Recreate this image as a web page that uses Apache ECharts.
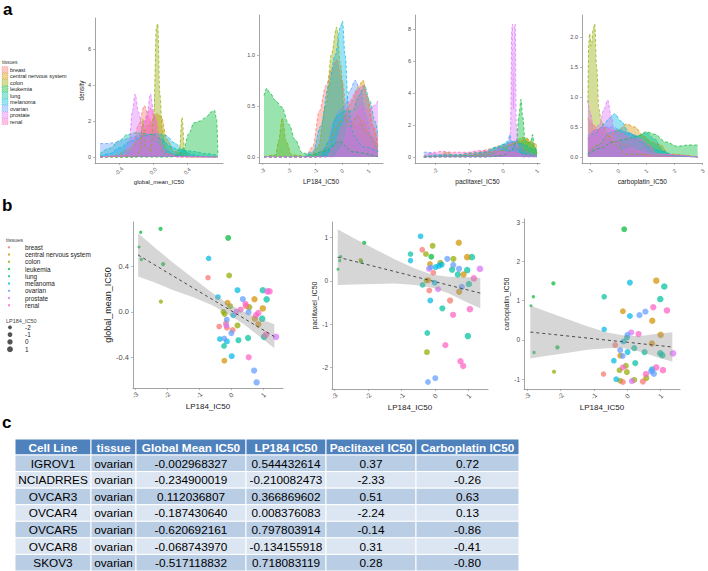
<!DOCTYPE html>
<html>
<head>
<meta charset="utf-8">
<script src="https://cdn.jsdelivr.net/npm/echarts@6/dist/echarts.min.js"></script>
<style>
  html, body { margin: 0; padding: 0; background: #fff; }
  #chart { width: 708px; height: 571px; }
</style>
</head>
<body>
<div id="chart"></div>
<script>
// ---- data ----
var tissues = ['breast', 'central nervous system', 'colon', 'leukemia', 'lung', 'melanoma', 'ovarian', 'prostate', 'renal'];
var tissueColors = ['#F8766D', '#D39200', '#93AA00', '#00BA38', '#00C19F', '#00B9E3', '#619CFF', '#DB72FB', '#FF61C3'];

// density curves (x, density), one list per tissue, in tissue order
var gmDensity = [
  [[-0.62,0],[-0.35,0.05],[-0.24,0.5],[-0.17,1.8],[-0.1,2.85],[-0.05,2.2],[0.0,1.4],[0.06,0.7],[0.15,0.15],[0.3,0],[0.76,0]],
  [[-0.62,0],[-0.45,0.05],[-0.3,0.4],[-0.15,1.0],[-0.05,1.8],[0.05,2.4],[0.1,2.2],[0.16,1.0],[0.25,0.3],[0.4,0.05],[0.76,0]],
  [[-0.62,0],[-0.2,0],[-0.15,0.4],[-0.12,2.1],[-0.09,0.6],[-0.03,0.3],[0.01,2.5],[0.04,7.2],[0.055,7.4],[0.08,3.5],[0.11,1.5],[0.15,0.4],[0.25,0.1],[0.31,0.5],[0.34,2.2],[0.37,0.4],[0.42,0],[0.76,0]],
  [[-0.62,0],[0.2,0],[0.3,0.1],[0.36,0.5],[0.42,1.3],[0.48,1.9],[0.55,2.0],[0.62,2.2],[0.68,2.5],[0.72,2.6],[0.745,2.1],[0.76,0.2]],
  [[-0.62,0.2],[-0.5,0.5],[-0.4,0.9],[-0.3,1.25],[-0.2,1.35],[-0.1,1.3],[0.0,1.25],[0.1,1.0],[0.2,0.6],[0.3,0.4],[0.4,0.35],[0.5,0.3],[0.6,0.2],[0.76,0.1]],
  [[-0.62,0.05],[-0.5,0.2],[-0.4,0.5],[-0.25,0.9],[-0.1,1.2],[0.05,1.3],[0.15,1.2],[0.25,0.8],[0.35,0.4],[0.45,0.15],[0.55,0.05],[0.76,0]],
  [[-0.62,0.75],[-0.55,0.75],[-0.45,0.8],[-0.35,0.95],[-0.25,1.1],[-0.15,1.2],[-0.05,1.1],[0.05,0.8],[0.15,0.4],[0.25,0.15],[0.35,0.03],[0.76,0]],
  [[-0.62,0],[-0.35,0.05],[-0.28,0.8],[-0.24,2.6],[-0.21,3.5],[-0.17,2.5],[-0.12,1.4],[-0.07,2.4],[-0.03,3.5],[0.01,2.4],[0.06,0.6],[0.12,0.05],[0.76,0]],
  [[-0.62,0],[-0.3,0.1],[-0.18,0.8],[-0.1,2.0],[-0.03,2.7],[0.03,2.2],[0.08,1.0],[0.15,0.2],[0.3,0],[0.76,0]]
];
var lpDensity = [
  [[-2.94,0],[-1.4,0],[-1.1,0.1],[-0.85,0.45],[-0.6,0.7],[-0.4,0.85],[-0.2,0.95],[0.0,0.75],[0.2,0.4],[0.5,0.3],[0.8,0.35],[1.1,0.2],[1.36,0.1]],
  [[-2.94,0],[-1.0,0],[-0.5,0.1],[-0.2,0.3],[0.1,0.4],[0.4,0.55],[0.6,0.68],[0.8,0.75],[0.95,0.6],[1.15,0.3],[1.36,0.1]],
  [[-2.94,0],[-2.5,0.02],[-2.4,0.15],[-2.25,0.38],[-2.1,0.15],[-1.9,0.02],[-1.2,0],[-0.9,0.1],[-0.6,0.5],[-0.4,1.0],[-0.2,1.27],[-0.05,0.9],[0.1,0.4],[0.3,0.3],[0.6,0.4],[0.9,0.25],[1.36,0.05]],
  [[-2.94,0.6],[-2.84,0.67],[-2.7,0.62],[-2.5,0.55],[-2.28,0.49],[-2.0,0.32],[-1.77,0.17],[-1.5,0.04],[-1.2,0.02],[-0.6,0.06],[-0.1,0.15],[0.4,0.05],[1.36,0]],
  [[-2.94,0],[-0.8,0],[-0.5,0.15],[-0.2,0.4],[0.1,0.45],[0.4,0.45],[0.65,0.6],[0.85,0.7],[1.05,0.55],[1.25,0.35],[1.36,0.2]],
  [[-2.94,0],[-1.5,0],[-1.1,0.05],[-0.8,0.3],[-0.5,0.7],[-0.25,1.0],[-0.05,1.28],[0.02,1.33],[0.12,1.0],[0.25,0.45],[0.45,0.2],[0.8,0.1],[1.36,0.05]],
  [[-2.94,0],[-1.0,0],[-0.6,0.1],[-0.3,0.35],[-0.1,0.45],[0.1,0.5],[0.3,0.65],[0.5,0.75],[0.7,0.65],[0.9,0.4],[1.1,0.2],[1.36,0.05]],
  [[-2.94,0],[-0.3,0],[0.0,0.1],[0.3,0.35],[0.6,0.45],[0.8,0.5],[1.0,0.45],[1.2,0.5],[1.36,0.55]],
  [[-2.94,0],[-0.6,0],[-0.3,0.1],[0.0,0.3],[0.3,0.55],[0.55,0.65],[0.8,0.7],[1.0,0.55],[1.2,0.3],[1.36,0.15]]
];
var pacDensity = [
  [[-2.33,0],[-1.5,0.05],[-0.8,0.25],[-0.4,0.5],[-0.1,0.7],[0.2,0.8],[0.5,0.6],[0.8,0.25],[1.0,0.1]],
  [[-2.33,0],[-1,0.05],[-0.4,0.3],[0,0.6],[0.4,0.9],[0.7,1.1],[0.9,0.9],[1.0,0.7]],
  [[-2.33,0],[-1.9,0.05],[-1.65,0.3],[-1.4,0.05],[-0.5,0.1],[0,0.4],[0.3,0.8],[0.55,1.2],[0.7,1.2],[0.85,0.8],[1.0,0.3]],
  [[-2.33,0],[-0.5,0],[0,0.1],[0.25,0.4],[0.4,1.0],[0.47,2.6],[0.53,3.6],[0.58,2.5],[0.65,1.1],[0.75,0.9],[0.82,1.0],[0.87,1.4],[0.92,0.7],[1.0,0.2]],
  [[-2.33,0.05],[-1.3,0.15],[-1.0,0.25],[-0.6,0.3],[-0.2,0.6],[0.2,0.9],[0.4,1.0],[0.6,0.8],[0.9,0.5],[1.0,0.4]],
  [[-2.33,0],[-1,0.1],[-0.5,0.3],[-0.2,0.6],[0.0,0.8],[0.15,1.0],[0.2,1.4],[0.25,1.0],[0.4,0.5],[0.6,0.2],[1.0,0]],
  [[-2.33,0.3],[-2.2,0.3],[-1.9,0.15],[-1.2,0.02],[-0.5,0.1],[-0.1,0.5],[0.2,0.9],[0.35,1.0],[0.5,0.8],[0.7,0.3],[1.0,0.05]],
  [[-2.33,0],[-0.5,0],[-0.25,0.1],[-0.15,0.6],[-0.05,0.3],[0.15,0.3],[0.22,1.5],[0.26,8.0],[0.28,8.3],[0.31,3.0],[0.33,8.2],[0.36,8.3],[0.39,2.0],[0.45,0.3],[0.6,0],[1.0,0]],
  [[-2.33,0.05],[-2.0,0.3],[-1.8,0.35],[-1.5,0.3],[-1.0,0.3],[-0.7,0.4],[-0.3,0.35],[0.0,0.35],[0.3,0.3],[0.6,0.15],[1.0,0.05]]
];
var carbDensity = [
  [[-1.07,0.65],[-0.9,0.55],[-0.7,0.45],[-0.4,0.35],[-0.1,0.25],[0.3,0.2],[0.6,0.1],[1.0,0.02],[2.82,0]],
  [[-1.07,0.1],[-0.7,0.2],[-0.3,0.35],[0.0,0.45],[0.3,0.55],[0.6,0.5],[0.9,0.35],[1.2,0.25],[1.5,0.2],[1.8,0.05],[2.82,0]],
  [[-1.07,0.9],[-1.04,1.9],[-1.01,2.06],[-0.95,1.85],[-0.88,2.15],[-0.83,2.22],[-0.76,1.5],[-0.68,0.8],[-0.6,0.6],[-0.4,0.4],[-0.1,0.2],[0.3,0.05],[2.82,0]],
  [[-1.07,0.05],[-0.6,0.15],[-0.2,0.25],[0.3,0.3],[0.7,0.35],[1.0,0.42],[1.3,0.38],[1.7,0.25],[2.1,0.18],[2.5,0.2],[2.82,0.2]],
  [[-1.07,0.05],[-0.7,0.2],[-0.3,0.4],[0.0,0.45],[0.3,0.4],[0.7,0.35],[1.0,0.4],[1.3,0.3],[1.6,0.1],[2.0,0.02],[2.82,0]],
  [[-1.07,0.3],[-0.8,0.4],[-0.5,0.55],[-0.3,0.65],[-0.12,0.72],[0.1,0.6],[0.4,0.4],[0.8,0.25],[1.2,0.15],[1.5,0.1],[2.0,0.02],[2.82,0]],
  [[-1.07,0.35],[-0.8,0.45],[-0.5,0.5],[-0.2,0.5],[0.1,0.45],[0.4,0.4],[0.7,0.35],[1.0,0.15],[1.3,0.03],[2.82,0]],
  [[-1.07,0.95],[-1.0,0.75],[-0.85,0.45],[-0.65,0.55],[-0.5,0.8],[-0.37,0.95],[-0.25,0.7],[-0.1,0.3],[0.1,0.1],[0.4,0.15],[0.8,0.1],[1.2,0.05],[2.82,0]],
  [[-1.07,0.3],[-0.8,0.45],[-0.5,0.5],[-0.2,0.45],[0.1,0.4],[0.5,0.3],[0.8,0.3],[1.1,0.2],[1.4,0.05],[2.82,0]]
];

// table (panel c)
var tableHeader = ['Cell Line', 'tissue', 'Global Mean IC50', 'LP184 IC50', 'Paclitaxel IC50', 'Carboplatin IC50'];
var cellLines = ['IGROV1', 'NCIADRRES', 'OVCAR3', 'OVCAR4', 'OVCAR5', 'OVCAR8', 'SKOV3'];
var tissueCol = ['ovarian', 'ovarian', 'ovarian', 'ovarian', 'ovarian', 'ovarian', 'ovarian'];
var globalMeanCol = ['-0.002968327', '-0.234900019', '0.112036807', '-0.187430640', '-0.620692161', '-0.068743970', '-0.517118832'];
var lp184Col = ['0.544432614', '-0.210082473', '0.366869602', '0.008376083', '0.797803914', '-0.134155918', '0.718083119'];
var paclitaxelCol = ['0.37', '-2.33', '0.51', '-2.24', '-0.14', '0.31', '0.28'];
var carboplatinCol = ['0.72', '-0.26', '0.63', '0.13', '-0.86', '-0.41', '-0.80'];

// scatter points [LP184, value, tissue index]; ovarian ones come from the table
var gmPoints = [
  [-2.82,0.70,3],[-2.87,0.57,3],[-2.8,0.46,3],[-2.2,0.73,3],[-2.12,0.42,3],[-0.09,0.65,3],
  [-2.19,0.09,2],[-0.06,0.32,2],[-0.03,0.05,2],[-0.24,0.0,2],[0.57,0.04,2],[0.2,-0.12,2],[-0.2,-0.02,2],
  [-0.70,0.47,5],[-0.41,0.13,5],[0.2,0.19,5],[0.07,-0.03,5],[-0.35,-0.24,5],[-0.13,-0.26,5],[0.02,-0.39,5],
  [-0.72,0.30,0],[-0.16,-0.10,0],[-0.37,-0.13,0],[-0.13,-0.14,0],[0.47,0.05,0],[0.05,-0.16,0],
  [0.99,0.19,4],[1.11,0.11,4],[0.97,-0.06,4],[-0.22,-0.30,4],[0.23,-0.25,4],[0.53,-0.23,4],[1.03,-0.22,4],
  [-0.11,0.08,1],[0.73,0.11,1],[0.99,0.03,1],[0.74,-0.06,1],[0.85,-0.11,1],[-0.21,-0.43,1],
  [1.13,0.18,7],[0.16,0.0,7],[1.4,-0.22,7],[-0.15,-0.12,7],
  [0.3,0.02,8],[0.78,-0.03,8],[0.85,-0.01,8],[0.55,-0.40,8],[1.2,0.18,8],[1.09,-0.20,8],[0.45,0.07,8]
];
var pacPoints = [
  [-2.89,0.27,3],[-2.84,0.47,3],[-2.81,0.56,3],[-2.11,0.88,3],[-2.2,0.45,3],[-0.11,0.56,3],
  [-2.22,0.48,2],[-0.27,0.62,2],[-0.07,0.81,2],[0.16,0.42,2],[0.55,0.51,2],[-0.25,0.01,2],[-0.24,-1.64,2],
  [-0.43,1.03,5],[-0.73,0.47,5],[0.02,0.32,5],[0.2,0.38,5],[-0.01,-0.04,5],[-0.14,-0.45,5],[0.12,0.35,5],
  [-0.73,0.62,4],[0.51,0.26,4],[0.68,0.15,4],[1.1,0.55,4],[0.96,0.25,4],[1.01,-0.07,4],[-0.37,-0.09,4],[0.22,-0.63,4],[-0.23,-1.2,4],[0.98,-1.27,4],
  [-0.38,0.72,0],[-0.17,-0.22,0],[-0.05,0.19,0],[0.45,-0.45,0],
  [-0.15,0.39,1],[0.71,0.88,1],[0.85,0.15,1],[0.96,0.55,1],[0.72,-0.25,1],[-0.2,0.02,1],
  [-0.18,0.28,7],[0.09,-0.19,7],[1.34,0.28,7],
  [1.16,0.06,8],[1.04,-0.65,8],[0.54,-0.78,8],[0.31,-1.48,8],[0.76,-1.85,8],[0.84,-1.96,8]
];
var carbPoints = [
  [-2.81,1.1,3],[-2.88,0.87,3],[-2.79,-0.32,3],[-2.21,1.44,3],[-2.09,-0.19,3],[-0.09,2.82,3],
  [-2.19,-0.81,2],[-0.04,-0.66,2],[-0.23,-0.77,2],[-0.01,-0.82,2],[-0.21,-1.04,2],[0.21,-1.02,2],[0.57,-0.97,2],
  [0.08,1.46,5],[-0.69,0.27,5],[0.08,0.61,5],[-0.11,-0.04,5],[0.01,-0.31,5],[-0.4,-0.53,5],[0.75,-0.75,5],[-0.33,-1.0,5],
  [-0.69,1.10,4],[0.99,1.04,4],[1.11,1.36,4],[-0.01,0.06,4],[0.21,-0.21,4],[0.52,-0.31,4],[0.99,-0.34,4],[1.05,-0.39,4],[0.24,-0.59,4],
  [-0.13,0.73,1],[0.87,1.51,1],[0.75,0.49,1],[1.0,0.13,1],[0.74,-0.09,1],[-0.21,-0.4,1],
  [-0.36,-0.13,0],[-0.71,-0.87,0],[-0.13,-1.07,0],[0.47,-1.06,0],
  [0.12,0.19,7],[1.37,-0.34,7],[0.14,-1.05,7],
  [0.78,0.83,8],[1.19,0.75,8],[0.34,0.15,8],[-0.13,-0.70,8],[0.56,-0.87,8],[0.87,-0.70,8],[1.07,-0.77,8]
];
for (var k = 0; k < cellLines.length; k++) {
  var lpv = parseFloat(lp184Col[k]);
  gmPoints.push([lpv, parseFloat(globalMeanCol[k]), 6]);
  pacPoints.push([lpv, parseFloat(paclitaxelCol[k]), 6]);
  carbPoints.push([lpv, parseFloat(carboplatinCol[k]), 6]);
}

// linear fit and its confidence band
var bandX = [-2.9, -2.4, -1.8, -1.2, -0.6, -0.1, 0.4, 0.9, 1.35];
var gmUpper = [0.69, 0.57, 0.43, 0.30, 0.17, 0.07, 0.00, -0.06, -0.11];
var gmLower = [0.31, 0.26, 0.19, 0.13, 0.06, -0.02, -0.11, -0.22, -0.32];
var gmFit = [[-2.9, 0.50], [1.35, -0.218]];
var pacUpper = [1.19, 0.98, 0.74, 0.50, 0.29, 0.15, 0.10, 0.09, 0.07];
var pacLower = [-0.09, -0.08, -0.07, -0.06, -0.09, -0.15, -0.28, -0.47, -0.63];
var pacFit = [[-2.9, 0.55], [1.35, -0.28]];
var carbUpper = [0.875, 0.715, 0.53, 0.35, 0.19, 0.11, 0.10, 0.16, 0.195];
var carbLower = [-0.475, -0.405, -0.33, -0.25, -0.21, -0.21, -0.30, -0.44, -0.555];
var carbFit = [[-2.9, 0.2], [1.35, -0.18]];

// tick labels
var gmTicks = [-0.4, 0, 0.4];
var lpTicks = [-3, -2, -1, 0, 1];
var pacTicksA = [-2, -1, 0, 1];
var carbTicksA = [-1, 0, 1, 2, 3];
var gmDensTicks = [0, 2, 4, 6];
var lpDensTicks = [0, 0.5, 1.0];
var pacDensTicks = [0, 2, 4, 6, 8];
var carbDensTicks = [0, 0.5, 1.0, 1.5, 2.0];
var gmScatTicks = [-0.4, 0, 0.4];
var pacScatTicks = [-2, -1, 0, 1];
var carbScatTicks = [-1, 0, 1, 2, 3];
var sizeLegend = [-2, -1, 0, 1];

// ---- chart ----
var FONT = '"Liberation Sans", Arial, sans-serif';
var AXIS = '#8c8c8c';

function rgba(hex, a) {
  var n = parseInt(hex.slice(1), 16);
  return 'rgba(' + (n >> 16) + ',' + ((n >> 8) & 255) + ',' + (n & 255) + ',' + a + ')';
}
function pointSize(lp) {
  return 2.4 + 4.3 * Math.sqrt(Math.max(lp + 3, 0) / 4.4);
}

function makeX(i, min, max, ticks, digits, name, labelSize, nameSize, nameGap, margin) {
  return {
    type: 'value', gridIndex: i, min: min, max: max,
    splitLine: { show: false },
    axisLine: { show: true, onZero: false, lineStyle: { color: AXIS, width: 0.8 } },
    axisTick: { show: true, length: 2, customValues: ticks, lineStyle: { color: AXIS, width: 0.6 } },
    axisLabel: {
      customValues: ticks, rotate: 45, align: 'center', verticalAlign: 'middle', margin: margin,
      fontSize: labelSize, color: '#4d4d4d', fontFamily: FONT,
      formatter: function (v) { return Number(v).toFixed(digits); }
    },
    name: name, nameLocation: 'middle', nameGap: nameGap,
    nameTextStyle: { fontSize: nameSize, color: '#1a1a1a', fontFamily: FONT }
  };
}
function makeY(i, min, max, ticks, digits, name, labelSize, nameSize, nameGap, margin) {
  return {
    type: 'value', gridIndex: i, min: min, max: max,
    splitLine: { show: false },
    axisLine: { show: true, onZero: false, lineStyle: { color: AXIS, width: 0.8 } },
    axisTick: { show: true, length: 2, customValues: ticks, lineStyle: { color: AXIS, width: 0.6 } },
    axisLabel: {
      customValues: ticks, margin: margin, fontSize: labelSize, color: '#4d4d4d', fontFamily: FONT,
      formatter: function (v) { return Number(v).toFixed(digits); }
    },
    name: name, nameLocation: 'middle', nameGap: nameGap,
    nameTextStyle: { fontSize: nameSize, color: '#1a1a1a', fontFamily: FONT }
  };
}

var grids = [
  { left: 95, top: 18, width: 128, height: 145 },
  { left: 259, top: 15, width: 124, height: 148 },
  { left: 415, top: 15, width: 125, height: 148 },
  { left: 582, top: 15, width: 124, height: 148 },
  { left: 133, top: 222, width: 150, height: 166 },
  { left: 332, top: 222, width: 156, height: 167 },
  { left: 524, top: 219, width: 156, height: 170 }
];

var xAxes = [
  makeX(0, -0.68, 0.82, gmTicks, 1, 'global_mean_IC50', 5.5, 6, 13, 8),
  makeX(1, -3.13, 1.55, lpTicks, 0, 'LP184_IC50', 5.5, 6.5, 13, 8),
  makeX(2, -2.59, 1.09, pacTicksA, 0, 'paclitaxel_IC50', 5.5, 6.5, 13, 8),
  makeX(3, -1.28, 3.0, carbTicksA, 0, 'carboplatin_IC50', 5.5, 6.5, 13, 8),
  makeX(4, -3.06, 1.62, lpTicks, 0, 'LP184_IC50', 6.5, 8, 11, 7),
  makeX(5, -3.07, 1.58, lpTicks, 0, 'LP184_IC50', 6.5, 8, 11, 7),
  makeX(6, -3.09, 1.58, lpTicks, 0, 'LP184_IC50', 6.5, 8, 11, 7)
];
var yAxes = [
  makeY(0, -0.33, 7.72, gmDensTicks, 0, 'density', 5.5, 6.3, 5, 4),
  makeY(1, -0.06, 1.39, lpDensTicks, 1, '', 5.5, 6, 5, 4),
  makeY(2, -0.375, 8.875, pacDensTicks, 0, '', 5.5, 6, 5, 4),
  makeY(3, -0.1, 2.37, carbDensTicks, 1, '', 5.5, 6, 5, 4),
  makeY(4, -0.67, 0.79, gmScatTicks, 1, 'global_mean_IC50', 7.5, 9, 13, 4),
  makeY(5, -2.49, 1.36, pacScatTicks, 0, 'paclitaxel_IC50', 6.5, 7, 9, 4),
  makeY(6, -1.25, 3.08, carbScatTicks, 0, 'carboplatin_IC50', 6.5, 7, 10, 4)
];

var series = [];
[gmDensity, lpDensity, pacDensity, carbDensity].forEach(function (panel, p) {
  panel.forEach(function (curve, t) {
    series.push({
      type: 'line', name: tissues[t], xAxisIndex: p, yAxisIndex: p,
      data: curve, smooth: 0.35, smoothMonotone: 'x', symbol: 'none', silent: true,
      lineStyle: { color: tissueColors[t], width: 0.7, type: [3, 2] },
      areaStyle: { color: tissueColors[t], opacity: 0.4 }
    });
  });
});

function bandSeries(idx, upper, lower) {
  return {
    type: 'custom', xAxisIndex: idx, yAxisIndex: idx, z: 3, silent: true, clip: true,
    data: [[0, 0]],
    renderItem: function (params, api) {
      var pts = [];
      for (var i = 0; i < bandX.length; i++) pts.push(api.coord([bandX[i], upper[i]]));
      for (var j = bandX.length - 1; j >= 0; j--) pts.push(api.coord([bandX[j], lower[j]]));
      return { type: 'polygon', shape: { points: pts }, style: { fill: 'rgba(153,153,153,0.4)' } };
    }
  };
}
function pointSeries(idx, pts) {
  return {
    type: 'scatter', xAxisIndex: idx, yAxisIndex: idx, z: 2, silent: true,
    data: pts,
    symbolSize: function (v) { return pointSize(v[0]); },
    itemStyle: { opacity: 0.72, color: function (p) { return tissueColors[p.data[2]]; } }
  };
}
function fitSeries(idx, fit) {
  return {
    type: 'line', xAxisIndex: idx, yAxisIndex: idx, z: 4, silent: true, symbol: 'none',
    data: fit, lineStyle: { color: '#4a4a4a', width: 1, type: [3, 3] }
  };
}
series.push(pointSeries(4, gmPoints), bandSeries(4, gmUpper, gmLower), fitSeries(4, gmFit));
series.push(pointSeries(5, pacPoints), bandSeries(5, pacUpper, pacLower), fitSeries(5, pacFit));
series.push(pointSeries(6, carbPoints), bandSeries(6, carbUpper, carbLower), fitSeries(6, carbFit));

// graphic: panel letters, legends, table
var g = [];
function txt(x, y, s, font, fill, align) {
  return {
    type: 'text', x: x, y: y, silent: true,
    style: { text: s, font: font, fill: fill, textAlign: align || 'left', textVerticalAlign: 'middle', align: align || 'left', verticalAlign: 'middle' }
  };
}
g.push(txt(3, 9, 'a', 'bold 17px ' + FONT, '#000'));
g.push(txt(2, 205, 'b', 'bold 17px ' + FONT, '#000'));
g.push(txt(2, 422, 'c', 'bold 17px ' + FONT, '#000'));

// legend panel a
g.push(txt(2, 62, 'tissues', '5px ' + FONT, '#333'));
tissues.forEach(function (name, i) {
  g.push({ type: 'rect', silent: true, shape: { x: 2, y: 66.5 + 6.5 * i, width: 6, height: 6 },
    style: { fill: rgba(tissueColors[i], 0.4), stroke: tissueColors[i], lineWidth: 0.5, lineDash: [1, 1] } });
  g.push(txt(10, 69.5 + 6.5 * i, name, '5.5px ' + FONT, '#222'));
});

// legend panel b
g.push(txt(6, 239.5, 'tissues', '5.5px ' + FONT, '#444'));
tissues.forEach(function (name, i) {
  g.push({ type: 'circle', silent: true, shape: { cx: 9, cy: 247.3 + 7.25 * i, r: 1.2 },
    style: { fill: rgba(tissueColors[i], 0.8) } });
  g.push(txt(25, 247.3 + 7.25 * i, name, '6.4px ' + FONT, '#222'));
});
g.push(txt(6, 320.7, 'LP184_IC50', '5.5px ' + FONT, '#444'));
sizeLegend.forEach(function (v, i) {
  g.push({ type: 'circle', silent: true, shape: { cx: 10, cy: 327.3 + 7.3 * i, r: pointSize(v) / 2 - 0.3 },
    style: { fill: 'rgba(40,40,40,0.8)' } });
  g.push(txt(25, 327.3 + 7.3 * i, String(v), '6.4px ' + FONT, '#222'));
});

// table
var tableCols = [15, 91, 136, 246, 326, 416, 519];
var tableTop = 439, headH = 16, rowH = 16.57;
var tableColumns = [cellLines, tissueCol, globalMeanCol, lp184Col, paclitaxelCol, carboplatinCol];
for (var c = 0; c < tableHeader.length; c++) {
  var x0 = tableCols[c], w = tableCols[c + 1] - tableCols[c];
  g.push({ type: 'rect', silent: true, shape: { x: x0, y: tableTop, width: w, height: headH },
    style: { fill: '#4F81BD', stroke: '#fff', lineWidth: 1 } });
  g.push(txt(x0 + w / 2, tableTop + headH / 2 + 0.5, tableHeader[c], 'bold 11.8px ' + FONT, '#fff', 'center'));
  for (var r = 0; r < cellLines.length; r++) {
    var y0 = tableTop + headH + r * rowH;
    g.push({ type: 'rect', silent: true, shape: { x: x0, y: y0, width: w, height: rowH },
      style: { fill: r % 2 === 0 ? '#B9CDE5' : '#DCE6F2', stroke: '#fff', lineWidth: 1 } });
    g.push(txt(x0 + w / 2, y0 + rowH / 2 + 0.5, tableColumns[c][r], '11.8px ' + FONT, '#000', 'center'));
  }
}

var chart = echarts.init(document.getElementById('chart'), null, { renderer: 'svg' });
chart.setOption({
  animation: false,
  backgroundColor: '#fff',
  textStyle: { fontFamily: FONT },
  grid: grids,
  xAxis: xAxes,
  yAxis: yAxes,
  series: series,
  graphic: { elements: g }
});
</script>
</body>
</html>
